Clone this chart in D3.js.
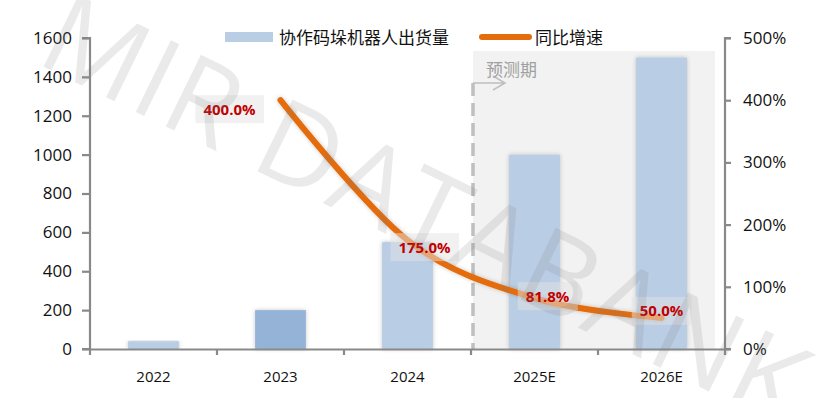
<!DOCTYPE html>
<html>
<head>
<meta charset="utf-8">
<script src="https://cdn.jsdelivr.net/npm/d3@7"></script>
<style>
  body { margin: 0; background: #fff; }
  svg { display: block; font-family: "Noto Sans CJK SC", "Open Sans", sans-serif; }
</style>
</head>
<body>
<svg id="chart"></svg>
<script>
const categories = ["2022", "2023", "2024", "2025E", "2026E"];
const shipments = [40, 200, 550, 1000, 1500];
const growth = [null, 400, 175, 81.8, 50];
const growthLabels = ["", "400.0%", "175.0%", "81.8%", "50.0%"];
const leftTicks = [0, 200, 400, 600, 800, 1000, 1200, 1400, 1600];
const rightTicks = [0, 100, 200, 300, 400, 500];
const forecastFrom = "2025E";

const width = 818, height = 398;
const plotLeft = 90, plotRight = 725, plotTop = 38, plotBottom = 349;

const svg = d3.select("#chart").attr("width", width).attr("height", height);

const defs = svg.append("defs");
const shadow = defs.append("filter").attr("id", "shadow")
  .attr("x", "-30%").attr("y", "-10%").attr("width", "160%").attr("height", "120%");
shadow.append("feDropShadow").attr("dx", 0).attr("dy", 0)
  .attr("stdDeviation", 2.2).attr("flood-color", "#000").attr("flood-opacity", 0.22);

const x = d3.scaleBand().domain(categories).range([plotLeft, plotRight])
  .paddingInner(0.6).paddingOuter(0.3);
const xCat = d3.scaleBand().domain(categories).range([plotLeft, plotRight]);
const y = d3.scaleLinear().domain([0, 1600]).range([plotBottom, plotTop]);
const y2 = d3.scaleLinear().domain([0, 500]).range([plotBottom, plotTop]);
const cx = c => x(c) + x.bandwidth() / 2;

// forecast period shading
const fx = xCat(forecastFrom);
svg.append("rect")
  .attr("x", fx + 2).attr("y", 51)
  .attr("width", plotRight - 12 - fx).attr("height", plotBottom - 51)
  .attr("fill", "#f2f2f2");

svg.append("line")
  .attr("x1", fx + 2).attr("x2", fx + 2).attr("y1", 83).attr("y2", plotBottom)
  .attr("stroke", "#bfbfbf").attr("stroke-width", 3.5).attr("stroke-dasharray", "13,7");
svg.append("path")
  .attr("d", `M${fx + 2},83H${fx + 34}M${fx + 22},76L${fx + 34},83L${fx + 22},90`)
  .attr("fill", "none").attr("stroke", "#bfbfbf").attr("stroke-width", 1.5);
svg.append("text")
  .attr("x", fx + 15).attr("y", 76)
  .attr("font-size", 17).attr("fill", "#a0a0a0")
  .text("预测期");

// bars
svg.selectAll(".bar")
  .data(categories)
  .enter().append("rect")
  .attr("class", "bar")
  .attr("x", d => x(d))
  .attr("y", (d, i) => y(shipments[i]))
  .attr("width", x.bandwidth())
  .attr("height", (d, i) => plotBottom - y(shipments[i]))
  .attr("fill", d => d === "2023" ? "#95b3d7" : "#b9cde5")
  .attr("filter", "url(#shadow)");

// growth line
const pts = categories.map((c, i) => ({ c, v: growth[i] })).filter(d => d.v !== null);
const line = d3.line()
  .x(d => cx(d.c))
  .y(d => y2(d.v))
  .curve(d3.curveCardinal.tension(0));
svg.append("path")
  .datum(pts)
  .attr("d", line)
  .attr("fill", "none")
  .attr("stroke", "#e46c0a")
  .attr("stroke-width", 6)
  .attr("stroke-linecap", "round")
  .attr("filter", "url(#shadow)");

// data labels
const labelOffsets = [[0, 0], [-51, 9], [17, 7], [13, -2], [0, -7]];
const labels = svg.selectAll(".lbl")
  .data(pts)
  .enter().append("g")
  .attr("class", "lbl")
  .attr("transform", d => {
    const i = categories.indexOf(d.c);
    return `translate(${cx(d.c) + labelOffsets[i][0]},${y2(d.v) + labelOffsets[i][1]})`;
  });
labels.append("rect")
  .attr("fill", "rgba(228,228,228,0.5)");
labels.append("text")
  .attr("text-anchor", "middle")
  .attr("dy", "0.36em")
  .attr("font-family", "'Open Sans', 'DejaVu Sans', sans-serif")
  .attr("font-weight", 700)
  .attr("font-size", 15)
  .attr("fill", "#c00000")
  .text(d => growthLabels[categories.indexOf(d.c)]);
labels.each(function () {
  const b = d3.select(this).select("text").node().getBBox();
  d3.select(this).select("rect")
    .attr("x", b.x - 8).attr("y", -14).attr("width", b.width + 16).attr("height", 28);
});

// axes
const axisColor = "#898989";
const gl = svg.append("g").attr("transform", `translate(${plotLeft},0)`)
  .call(d3.axisLeft(y).tickValues(leftTicks).tickSize(8).tickPadding(10).tickFormat(d3.format("d")));
const gr = svg.append("g").attr("transform", `translate(${plotRight},0)`)
  .call(d3.axisRight(y2).tickValues(rightTicks).tickSize(6).tickPadding(12).tickFormat(d => d + "%"));
const gx = svg.append("g").attr("transform", `translate(0,${plotBottom})`)
  .call(d3.axisBottom(xCat).tickSize(0).tickPadding(22));
gx.append("g").selectAll("line")
  .data(categories.concat(["_end"]))
  .enter().append("line")
  .attr("x1", (d, i) => plotLeft + i * xCat.step()).attr("x2", (d, i) => plotLeft + i * xCat.step())
  .attr("y1", 0).attr("y2", 6);

[gl, gr, gx].forEach(g => {
  g.selectAll("path.domain").attr("stroke", axisColor).attr("stroke-width", 2.2);
  g.selectAll("line").attr("stroke", axisColor).attr("stroke-width", 2.2);
  g.selectAll("text").attr("fill", "#111")
    .attr("font-family", "'Open Sans', 'DejaVu Sans', sans-serif");
});
gl.selectAll("text").attr("font-size", 17);
gr.selectAll("text").attr("font-size", 17);
gx.selectAll("text").attr("font-size", 15);
gl.select("path.domain").attr("d", `M-8,${plotBottom}H0V${plotTop}H-8`);
gr.select("path.domain").attr("d", `M6,${plotBottom}H0V${plotTop}H6`);

// legend
const legend = svg.append("g");
legend.append("rect").attr("x", 225).attr("y", 32).attr("width", 48).attr("height", 10).attr("fill", "#b9cde5");
legend.append("text").attr("x", 279).attr("y", 44).attr("font-size", 17).attr("fill", "#111")
  .text("协作码垛机器人出货量");
legend.append("line").attr("x1", 482).attr("x2", 529).attr("y1", 37).attr("y2", 37)
  .attr("stroke", "#e46c0a").attr("stroke-width", 6).attr("stroke-linecap", "round");
legend.append("text").attr("x", 535).attr("y", 44).attr("font-size", 17).attr("fill", "#111")
  .text("同比增速");

// watermark
svg.append("text")
  .attr("transform", "translate(428,206) rotate(26)")
  .attr("text-anchor", "middle")
  .attr("dominant-baseline", "central")
  .attr("font-family", "'Open Sans', 'DejaVu Sans', sans-serif")
  .attr("font-weight", 400)
  .attr("font-size", 112)
  .attr("fill", "#7f7f7f")
  .attr("fill-opacity", 0.16)
  .attr("letter-spacing", 2)
  .text("MIR DATABANK");
</script>
</body>
</html>
